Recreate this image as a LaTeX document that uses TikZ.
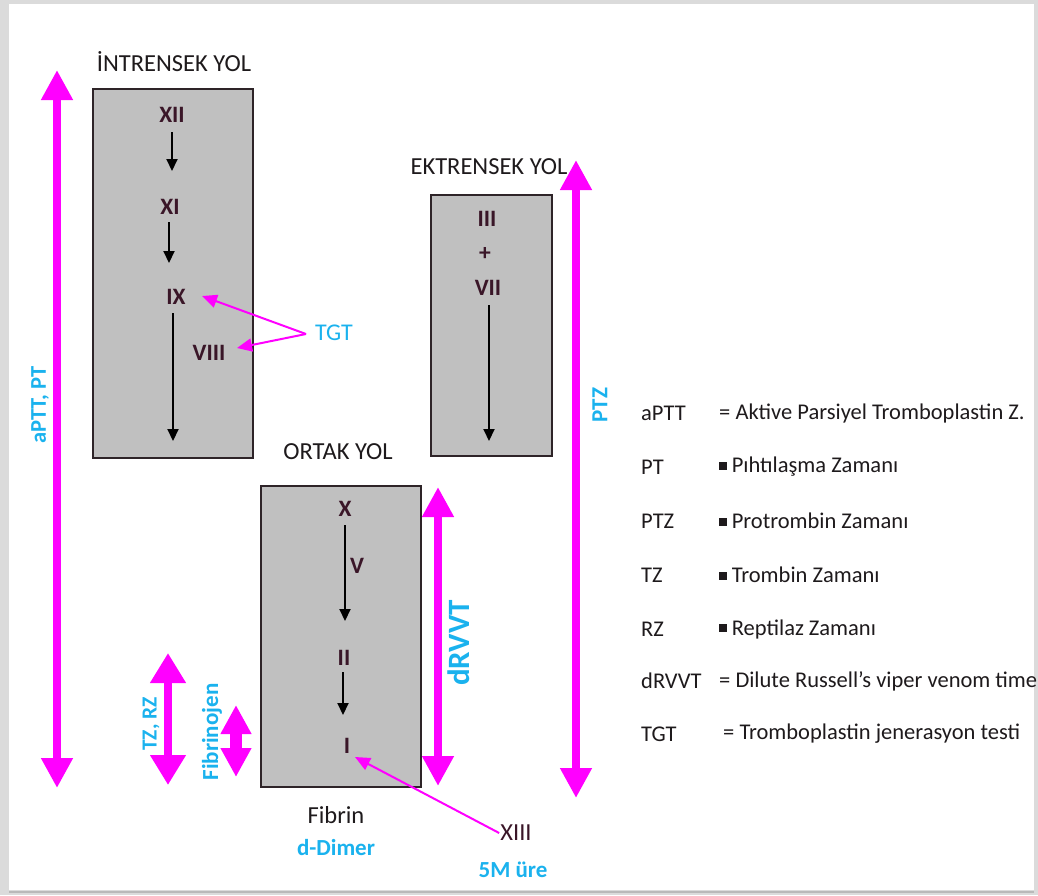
\documentclass[tikz,border=0pt]{standalone}
\usepackage{fontspec}
\setmainfont{Carlito}
\usetikzlibrary{arrows.meta}
\definecolor{mag}{HTML}{FF00FF}
\definecolor{cyanc}{HTML}{1AB2EE}
\definecolor{numcol}{HTML}{3A1628}
\definecolor{txtcol}{HTML}{1E1A1C}
\definecolor{boxfill}{HTML}{C0C0C0}
\definecolor{boxline}{HTML}{2E2428}
\tikzset{
  panel/.style={draw=boxline, fill=boxfill, line width=1.5pt, anchor=north west, inner sep=0pt},
  numeral/.style={text=numcol, font=\bfseries\fontsize{23.5}{27}\selectfont, inner sep=2pt},
  caption/.style={text=txtcol, font=\fontsize{24.5}{28}\selectfont, inner sep=1pt},
  cyanlbl/.style={text=cyanc, font=\bfseries\fontsize{22}{26}\selectfont, inner sep=1pt},
  flow/.style={draw=black, line width=2pt, -{Triangle[width=11pt,length=12pt]}},
  bigarrow/.style={draw=mag, line width=8pt, {Triangle[width=30pt,length=30pt]}-{Triangle[width=30pt,length=30pt]}},
  pointer/.style={draw=mag, line width=2pt, -{Triangle[width=13pt,length=15pt]}},
  legabbr/.style={text=txtcol, font=\fontsize{22.5}{26}\selectfont, anchor=west, inner sep=0pt},
  legdef/.style={text=txtcol, font=\fontsize{22.5}{26}\selectfont, anchor=west, inner sep=0pt}
}
\newcommand{\sqb}{\rule[0.12em]{0.36em}{0.36em}\hspace{0.2em}}
\begin{document}
\begin{tikzpicture}[x=1pt,y=-1pt]
\useasboundingbox (0,0) rectangle (1038,895);
% page frame / shadow
\fill[gray!28] (0,0) rectangle (1038,895);
\fill[white] (9,4) rectangle (1034,890);
\draw[gray!55, line width=2pt] (9,892) -- (1034,892);

% ---------- Intrinsic pathway ----------
\node[caption] (intrcap) at (174,62) {İNTRENSEK YOL};
\node[panel, minimum width=160pt, minimum height=369pt] (intr) at (92,88) {};
\node[numeral] (xii) at (172,115) {XII};
\node[numeral] (xi) at (170,207) {XI};
\node[numeral] (ix) at (176,297) {IX};
\node[numeral] (viii) at (209,353) {VIII};
\coordinate (intrend) at (173,441);
\draw[flow] (172,132) -- (172,171);
\draw[flow] (169,222) -- (169,263);
\draw[flow] (173,313) -- (intrend);

\node[text=cyanc, font=\fontsize{24}{28}\selectfont, inner sep=1pt] (tgt) at (334,333) {TGT};
\coordinate (tgtw) at (306,334);
\coordinate (ixtip) at (202,296);
\coordinate (viiitip) at (237,348);
\draw[pointer] (tgtw) -- (ixtip);
\draw[pointer] (tgtw) -- (viiitip);

% ---------- Extrinsic pathway ----------
\node[caption] (extrcap) at (489,167) {EKTRENSEK YOL};
\node[panel, minimum width=121pt, minimum height=261pt] (extr) at (430,194) {};
\node[numeral] (iii) at (487,219) {III};
\node[numeral] (plus) at (485,254) {+};
\node[numeral] (vii) at (488,288) {VII};
\coordinate (extrend) at (489,441);
\draw[flow] (489,305) -- (extrend);

% ---------- Common pathway ----------
\node[caption] (ortcap) at (338,452) {ORTAK YOL};
\node[panel, minimum width=160pt, minimum height=301pt] (ort) at (260,485) {};
\node[numeral] (x) at (345,509) {X};
\node[numeral] (v) at (357,566) {V};
\node[numeral] (ii) at (344,658) {II};
\node[numeral] (i) at (347,746) {I};
\draw[flow] (345,525) -- (345,621);
\draw[flow] (343,672) -- (343,715);

\node[caption] (fibrin) at (336,815) {Fibrin};
\node[cyanlbl, font=\bfseries\fontsize{23}{27}\selectfont] (ddimer) at (336,847) {d-Dimer};
\node[text=numcol, font=\fontsize{24.5}{28}\selectfont, inner sep=1pt] (xiii) at (516,833) {XIII};
\node[cyanlbl, font=\bfseries\fontsize{23}{27}\selectfont] (ure) at (513,870) {5M üre};
\coordinate (itip) at (355,757);
\draw[pointer] (xiii.west) -- (itip);

% ---------- magenta range arrows ----------
\coordinate (a1t) at (57,70);  \coordinate (a1b) at (57,788);
\draw[bigarrow] (a1b) -- (a1t);
\node[cyanlbl, font=\bfseries\fontsize{22.5}{26}\selectfont, rotate=90] (aptt) at (40,405) {aPTT, PT};

\coordinate (a2t) at (576,160); \coordinate (a2b) at (576,798);
\draw[bigarrow] (a2b) -- (a2t);
\node[cyanlbl, font=\bfseries\fontsize{23}{27}\selectfont, rotate=90] (ptz) at (600,405) {PTZ};

\coordinate (a3t) at (438,487); \coordinate (a3b) at (438,786);
\draw[bigarrow] (a3b) -- (a3t);
\node[text=cyanc, font=\bfseries\fontsize{31}{36}\selectfont, rotate=90, inner sep=1pt] (drvvt) at (459,643) {dRVVT};

\coordinate (a4t) at (168,653); \coordinate (a4b) at (168,785);
\draw[draw=mag, line width=8pt, {Triangle[width=34pt,length=30pt]}-{Triangle[width=34pt,length=30pt]}] (a4b) -- (a4t);
\node[cyanlbl, font=\bfseries\fontsize{21.5}{25}\selectfont, rotate=90] (tzrz) at (151,724) {TZ, RZ};

\coordinate (a5t) at (236,705); \coordinate (a5b) at (236,777);
\draw[draw=mag, line width=12pt, {Triangle[width=29pt,length=29pt]}-{Triangle[width=29pt,length=29pt]}] (a5b) -- (a5t);
\node[cyanlbl, font=\bfseries\fontsize{23}{27}\selectfont, rotate=90] (fibr) at (212,732) {Fibrinojen};

% ---------- legend ----------
\node[legabbr] (l1) at (641,413) {aPTT};
\node[legdef]  (d1) at (719,413) {= Aktive Parsiyel Tromboplastin Z.};
\node[legabbr] (l2) at (641,467) {PT};
\node[legdef]  (d2) at (719,467) {\sqb Pıhtılaşma Zamanı};
\node[legabbr] (l3) at (641,521) {PTZ};
\node[legdef]  (d3) at (719,521) {\sqb Protrombin Zamanı};
\node[legabbr] (l4) at (641,575) {TZ};
\node[legdef]  (d4) at (719,575) {\sqb Trombin Zamanı};
\node[legabbr] (l5) at (641,629) {RZ};
\node[legdef]  (d5) at (719,629) {\sqb Reptilaz Zamanı};
\node[legabbr] (l6) at (641,681) {dRVVT};
\node[legdef]  (d6) at (719,681) {= Dilute Russell's viper venom time};
\node[legabbr] (l7) at (641,734) {TGT};
\node[legdef]  (d7) at (723,734) {= Tromboplastin jenerasyon testi};
\end{tikzpicture}
\end{document}
